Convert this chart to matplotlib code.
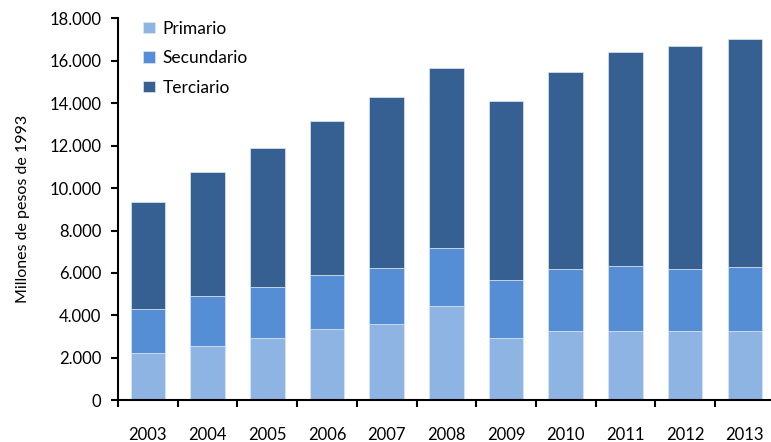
import matplotlib.pyplot as plt
from matplotlib.ticker import FuncFormatter, FixedLocator
import numpy as np

plt.rcParams['font.family'] = ['Lato', 'DejaVu Sans']

years = ['2003', '2004', '2005', '2006', '2007', '2008', '2009', '2010', '2011', '2012', '2013']
primario = [2230, 2570, 2935, 3360, 3595, 4460, 2935, 3265, 3265, 3265, 3265]
secundario = [2070, 2330, 2390, 2545, 2655, 2730, 2735, 2925, 3065, 2925, 3005]
terciario = [5030, 5870, 6575, 7255, 8040, 8470, 8450, 9300, 10100, 10490, 10740]

colors = ['#8EB4E3', '#558ED5', '#376092']

fig = plt.figure(figsize=(7.71, 4.42), dpi=100)
ax = fig.add_axes([118/771, 1 - 400.3/442, 1 - 118/771, (400.3 - 18.3)/442])

x = np.arange(len(years))
w = 0.58
p = np.array(primario)
s = np.array(secundario)
t = np.array(terciario)
ax.bar(x, p, w, color=colors[0], edgecolor='#dce6f2', linewidth=0.5, label='Primario')
ax.bar(x, s, w, bottom=p, color=colors[1], edgecolor='#dce6f2', linewidth=0.5, label='Secundario')
ax.bar(x, t, w, bottom=p + s, color=colors[2], edgecolor='#dce6f2', linewidth=0.5, label='Terciario')

ax.set_xlim(-0.5, -0.5 + (771 - 118) / 59.7)
ax.set_ylim(0, 18000)
ax.set_yticks(range(0, 18001, 2000))
ax.yaxis.set_major_formatter(FuncFormatter(lambda v, _: f'{int(v):,}'.replace(',', '.')))

ax.set_xticks(x)
ax.set_xticklabels(years)
ax.xaxis.set_minor_locator(FixedLocator(np.arange(-0.5, 11, 1)))
ax.tick_params(axis='x', which='major', length=0, pad=19, labelsize=12)
ax.tick_params(axis='x', which='minor', length=5, width=1.5, direction='out')
ax.tick_params(axis='y', length=5, width=1.5, direction='out', labelsize=12, pad=7)

for side in ['top', 'right']:
    ax.spines[side].set_visible(False)
for side in ['left', 'bottom']:
    ax.spines[side].set_linewidth(1.5)

ax.set_ylabel('Millones de pesos de 1993', fontsize=11.5, labelpad=14)

ax.legend(loc='upper left', bbox_to_anchor=(0.015, 1.035), frameon=False, fontsize=12.5,
          handlelength=0.65, handleheight=0.65, handletextpad=0.45, labelspacing=0.78)

fig.savefig('out.png', dpi=100)
